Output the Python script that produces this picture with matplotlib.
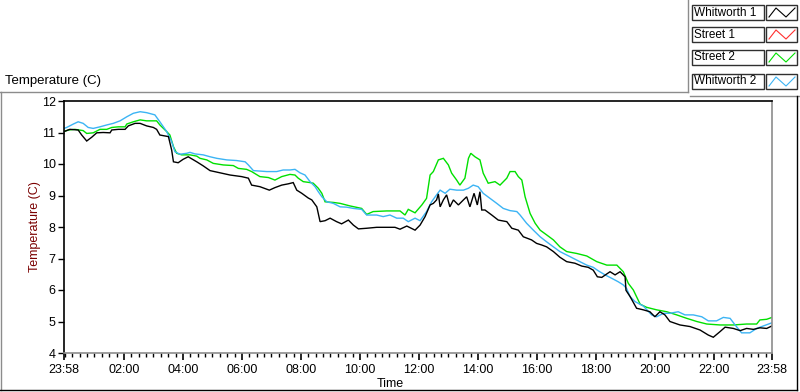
import matplotlib
matplotlib.use("Agg")
import numpy as np
from matplotlib import pyplot as plt
from matplotlib.lines import Line2D
from matplotlib.patches import Rectangle

plt.rcParams["font.family"] = ["Liberation Sans", "DejaVu Sans"]

# hours since 23:58 (axis start) -> temperature in C
w1_time = [0.00, 0.20, 0.48, 0.60, 0.77, 0.94, 1.11, 1.33, 1.56, 1.62, 1.84, 2.07, 2.18, 2.41,
           2.58, 2.80, 3.03, 3.14, 3.25, 3.54, 3.65, 3.71, 3.87, 4.04, 4.21, 4.50, 4.72, 4.95,
           5.29, 5.63, 6.02, 6.25, 6.36, 6.64, 6.96, 7.15, 7.38, 7.60, 7.77, 7.89, 8.06, 8.28,
           8.40, 8.57, 8.68, 8.85, 9.02, 9.24, 9.41, 9.64, 9.81, 9.98, 10.26, 10.60, 10.94,
           11.22, 11.39, 11.62, 11.90, 12.07, 12.24, 12.41, 12.52, 12.63, 12.69, 12.75, 12.86,
           12.97, 13.08, 13.20, 13.37, 13.54, 13.65, 13.76, 13.90, 14.01, 14.10, 14.16, 14.27,
           14.50, 14.72, 15.01, 15.18, 15.40, 15.57, 15.85, 16.02, 16.19, 16.36, 16.59, 16.81,
           17.04, 17.32, 17.55, 17.77, 17.94, 18.08, 18.23, 18.40, 18.51, 18.68, 18.85, 19.02,
           19.05, 19.19, 19.41, 19.64, 19.86, 20.03, 20.20, 20.37, 20.54, 20.88, 21.22, 21.56,
           21.84, 22.01, 22.24, 22.41, 22.69, 22.92, 23.14, 23.37, 23.59, 23.82, 24.00]
w1_temp = [11.03, 11.10, 11.08, 10.92, 10.73, 10.85, 10.99, 11.00, 10.99, 11.08, 11.10, 11.10,
           11.21, 11.29, 11.29, 11.21, 11.16, 11.10, 10.92, 10.87, 10.44, 10.07, 10.04, 10.15,
           10.23, 10.07, 9.94, 9.79, 9.72, 9.65, 9.60, 9.55, 9.33, 9.28, 9.17, 9.25, 9.33, 9.37,
           9.41, 9.17, 9.07, 8.92, 8.86, 8.64, 8.17, 8.20, 8.28, 8.17, 8.10, 8.22, 8.06, 7.94,
           7.96, 7.99, 7.99, 7.99, 7.93, 8.03, 7.90, 8.06, 8.33, 8.70, 8.75, 8.86, 9.05, 8.64,
           8.86, 9.02, 8.64, 8.86, 8.70, 8.86, 8.96, 8.64, 9.07, 8.70, 9.12, 8.54, 8.54, 8.38,
           8.22, 8.17, 7.96, 7.90, 7.69, 7.59, 7.48, 7.43, 7.37, 7.22, 7.04, 6.90, 6.85, 6.76,
           6.72, 6.63, 6.42, 6.40, 6.51, 6.58, 6.48, 6.58, 6.42, 5.99, 5.79, 5.42, 5.37, 5.31,
           5.15, 5.31, 5.21, 5.00, 4.89, 4.84, 4.73, 4.57, 4.50, 4.68, 4.82, 4.78, 4.71, 4.78,
           4.75, 4.80, 4.78, 4.86]

s1_time = []
s1_temp = []

s2_time = [0.00, 0.15, 0.37, 0.65, 0.77, 0.99, 1.22, 1.45, 1.62, 1.84, 2.07, 2.13, 2.35, 2.58,
           2.80, 3.14, 3.25, 3.48, 3.59, 3.71, 3.82, 3.99, 4.27, 4.50, 4.61, 4.84, 5.06, 5.40,
           5.74, 5.91, 6.19, 6.36, 6.64, 6.93, 7.15, 7.38, 7.66, 7.83, 7.94, 8.11, 8.34, 8.45,
           8.62, 8.74, 8.85, 9.13, 9.36, 9.69, 10.09, 10.26, 10.48, 10.94, 11.39, 11.56, 11.67,
           11.90, 12.13, 12.29, 12.41, 12.52, 12.69, 12.86, 13.03, 13.14, 13.31, 13.42, 13.59,
           13.71, 13.79, 13.93, 14.10, 14.21, 14.38, 14.61, 14.78, 15.01, 15.12, 15.29, 15.40,
           15.52, 15.63, 15.80, 15.97, 16.14, 16.36, 16.59, 16.81, 17.04, 17.38, 17.72, 18.06,
           18.40, 18.74, 18.96, 19.13, 19.30, 19.53, 19.75, 20.09, 20.43, 20.77, 21.11, 21.45,
           21.79, 22.24, 22.69, 23.14, 23.48, 23.59, 23.82, 24.00]
s2_temp = [11.03, 11.08, 11.10, 11.06, 10.97, 10.99, 11.10, 11.10, 11.16, 11.18, 11.18, 11.27,
           11.34, 11.40, 11.37, 11.37, 11.24, 11.03, 10.92, 10.55, 10.34, 10.29, 10.29, 10.25,
           10.18, 10.13, 10.02, 9.97, 9.95, 9.86, 9.83, 9.76, 9.60, 9.57, 9.49, 9.60, 9.67, 9.65,
           9.55, 9.44, 9.41, 9.39, 9.23, 9.07, 8.80, 8.78, 8.75, 8.67, 8.59, 8.40, 8.49, 8.51,
           8.51, 8.38, 8.56, 8.45, 8.70, 8.91, 9.65, 9.76, 10.13, 10.18, 9.97, 9.71, 9.49, 9.33,
           9.55, 10.18, 10.34, 10.23, 10.13, 9.71, 9.39, 9.44, 9.33, 9.55, 9.76, 9.76, 9.60,
           9.49, 8.96, 8.43, 8.12, 7.90, 7.75, 7.59, 7.37, 7.22, 7.16, 7.08, 6.90, 6.79, 6.79,
           6.58, 6.21, 6.00, 5.55, 5.45, 5.37, 5.31, 5.21, 5.10, 5.00, 4.92, 4.89, 4.89, 4.92,
           4.92, 5.05, 5.07, 5.13]

w2_time = [0.00, 0.09, 0.32, 0.48, 0.65, 0.82, 0.99, 1.22, 1.45, 1.67, 1.90, 2.13, 2.35, 2.58,
           2.80, 3.08, 3.25, 3.48, 3.65, 3.76, 3.93, 4.16, 4.27, 4.44, 4.72, 4.95, 5.18, 5.52,
           5.85, 6.14, 6.25, 6.42, 6.87, 7.21, 7.43, 7.66, 7.83, 8.00, 8.17, 8.34, 8.51, 8.62,
           8.74, 8.91, 9.13, 9.36, 9.58, 9.81, 10.09, 10.26, 10.60, 10.82, 11.05, 11.28, 11.50,
           11.67, 11.90, 12.07, 12.29, 12.46, 12.63, 12.75, 12.92, 13.08, 13.31, 13.54, 13.71,
           13.87, 14.04, 14.21, 14.44, 14.67, 14.89, 15.12, 15.35, 15.46, 15.68, 15.91, 16.14,
           16.36, 16.59, 16.81, 17.15, 17.38, 17.72, 17.94, 18.11, 18.34, 18.57, 18.79, 18.96,
           19.07, 19.19, 19.36, 19.64, 19.92, 20.09, 20.32, 20.54, 20.82, 21.05, 21.33, 21.62,
           21.84, 22.12, 22.35, 22.58, 22.75, 22.97, 23.25, 23.48, 23.71, 24.00]
w2_temp = [11.13, 11.16, 11.27, 11.34, 11.29, 11.16, 11.13, 11.18, 11.24, 11.29, 11.37, 11.50,
           11.61, 11.66, 11.63, 11.56, 11.34, 11.03, 10.71, 10.39, 10.31, 10.34, 10.37, 10.32,
           10.29, 10.23, 10.18, 10.13, 10.11, 10.07, 9.97, 9.79, 9.76, 9.76, 9.81, 9.81, 9.83,
           9.72, 9.65, 9.44, 9.28, 9.12, 8.96, 8.80, 8.75, 8.64, 8.63, 8.59, 8.56, 8.38, 8.38,
           8.33, 8.38, 8.28, 8.28, 8.17, 8.28, 8.20, 8.49, 8.80, 9.02, 9.17, 9.07, 9.20, 9.17,
           9.17, 9.23, 9.33, 9.28, 9.07, 8.91, 8.75, 8.59, 8.52, 8.49, 8.38, 8.12, 7.90, 7.69,
           7.53, 7.37, 7.22, 7.06, 6.95, 6.79, 6.72, 6.61, 6.48, 6.37, 6.26, 6.16, 6.05, 5.79,
           5.63, 5.49, 5.21, 5.15, 5.26, 5.26, 5.31, 5.21, 5.21, 5.15, 5.02, 5.02, 5.13, 5.10,
           4.89, 4.64, 4.64, 4.78, 4.86, 4.96]

series_names = ["Whitworth 1", "Street 1", "Street 2", "Whitworth 2"]
series_colors = ["#000000", "#ff3030", "#00e000", "#3cb4f4"]

tick_pos = [0.0] + [2.0333 + 2 * k for k in range(11)] + [24.0]
tick_labels = ["23:58", "02:00", "04:00", "06:00", "08:00", "10:00", "12:00",
               "14:00", "16:00", "18:00", "20:00", "22:00", "23:58"]

W, H = 800, 392


def fx(px):
    return px / W


def fy(py):
    return 1 - py / H


fig = plt.figure(figsize=(8, 3.92), dpi=100)
fig.patch.set_facecolor("white")
ax = fig.add_axes([fx(64), fy(353), fx(772) - fx(64), fy(101) - fy(353)])

data = [(w1_time, w1_temp), (s1_time, s1_temp), (s2_time, s2_temp), (w2_time, w2_temp)]
for idx in [1, 2, 3, 0]:
    t, v = data[idx]
    if len(t):
        ax.plot(t, v, color=series_colors[idx], lw=1.0, solid_joinstyle="miter")

ax.set_xlim(0, 24)
ax.set_ylim(4, 12)
ax.set_yticks(range(4, 13))
ax.set_xticks(tick_pos)
ax.set_xticklabels(tick_labels)
ax.set_xticks([2.0333 + 0.25 * k for k in range(-8, 88) if 0 < 2.0333 + 0.25 * k < 24], minor=True)
ax.tick_params(axis="y", length=4, width=1, labelsize=9, pad=2, color="black")
ax.tick_params(axis="x", which="major", length=5, width=1.2, labelsize=9, pad=3)
ax.tick_params(axis="x", which="minor", length=3, width=1)
ax.spines["left"].set_color("black")
ax.spines["top"].set_color("black")
ax.spines["right"].set_color("#8c8c8c")
ax.spines["bottom"].set_color("#8c8c8c")
for s in ax.spines.values():
    s.set_linewidth(1.2)

fig.text(fx(390), fy(384), "Time", ha="center", va="center", fontsize=9)
fig.text(fx(35), fy(227), "Temperature (C)", ha="center", va="center", rotation=90,
         fontsize=9, color="#7a0000")
fig.text(fx(5), fy(81), "Temperature (C)", ha="left", va="center", fontsize=9.5)

# panel frame lines
frame_lines = [
    ([0, 688], [92, 92], "#8c8c8c"),
    ([688, 688], [0, 92], "#8c8c8c"),
    ([690, 800], [96, 96], "#8c8c8c"),
    ([1, 1], [92, 390], "#8c8c8c"),
    ([0, 797], [390, 390], "#000000"),
    ([797, 797], [96, 390], "#000000"),
]
for xs, ys, c in frame_lines:
    fig.add_artist(Line2D([fx(p) for p in xs], [fy(p) for p in ys], color=c, lw=1.0,
                          transform=fig.transFigure))

# legend
row_tops = [5, 27, 50, 74]
for name, color, top in zip(series_names, series_colors, row_tops):
    fig.add_artist(Rectangle((fx(692), fy(top + 15)), fx(72), fy(top) - fy(top + 15),
                             facecolor="white", edgecolor="#303030", lw=1.0,
                             transform=fig.transFigure))
    fig.text(fx(694), fy(top + 7.5), name, ha="left", va="center", fontsize=8.5)
    fig.add_artist(Rectangle((fx(766), fy(top + 15)), fx(31), fy(top) - fy(top + 15),
                             facecolor="white", edgecolor="#303030", lw=1.0,
                             transform=fig.transFigure))
    zx = [769, 776, 786, 795]
    zy = [top + 12, top + 3, top + 12, top + 3]
    fig.add_artist(Line2D([fx(p) for p in zx], [fy(p) for p in zy], color=color, lw=0.8,
                          transform=fig.transFigure))

fig.savefig("out.png", dpi=100)
